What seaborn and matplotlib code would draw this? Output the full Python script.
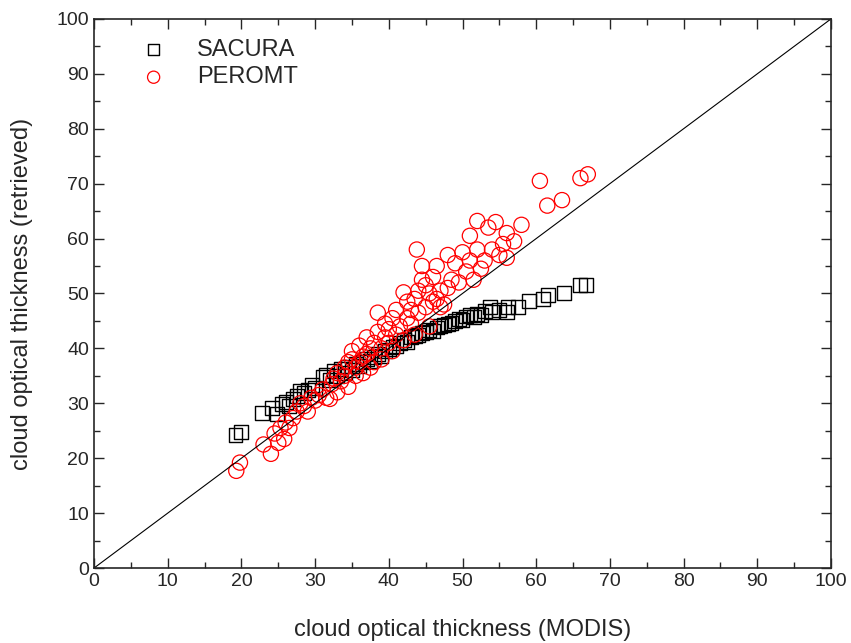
import pandas as pd
import matplotlib
matplotlib.use('Agg')
import matplotlib.pyplot as plt
import seaborn as sns
from matplotlib.ticker import MultipleLocator

# SACURA retrievals vs MODIS
sacura_x = [19.2, 19.9, 22.8, 24.2, 24.8, 25.5, 26.0, 26.5, 27.0, 27.6, 28.0, 28.5, 29.0,
            29.6, 30.0, 31.0, 31.5, 32.0, 32.5, 33.0, 33.5, 34.0, 34.5, 35.0, 35.5, 36.0,
            36.5, 37.0, 37.5, 38.0, 38.5, 39.0, 39.5, 40.0, 40.5, 41.0, 41.5, 42.0, 42.5,
            43.0, 43.5, 44.0, 44.5, 45.0, 45.5, 46.0, 46.5, 47.0, 47.5, 48.0, 48.5, 49.0,
            49.5, 50.0, 50.5, 51.0, 51.5, 52.0, 52.5, 53.0, 53.7, 54.0, 55.0, 56.0, 56.2,
            57.5, 59.0, 60.9, 61.6, 63.8, 66.0, 66.8]
sacura_y = [24.3, 24.8, 28.3, 29.2, 28.0, 29.8, 30.3, 29.5, 30.8, 31.3, 32.3, 31.8, 32.5,
            33.3, 32.8, 34.8, 35.2, 34.3, 35.8, 35.0, 36.2, 35.5, 36.7, 36.0, 37.2, 36.8,
            37.5, 38.0, 37.7, 38.5, 39.0, 38.6, 39.5, 39.8, 40.3, 40.5, 41.0, 41.5, 41.2,
            42.0, 42.2, 42.5, 42.8, 43.0, 43.3, 43.2, 43.8, 44.0, 44.3, 44.5, 44.6, 45.0,
            45.3, 45.2, 45.8, 46.0, 45.7, 46.3, 46.0, 46.8, 47.5, 46.6, 47.0, 46.6, 47.5,
            47.5, 48.6, 49.0, 49.7, 50.1, 51.5, 51.5]

# PEROMT retrievals vs MODIS
peromt_x = [19.3, 19.8, 23.0, 24.0, 24.5, 25.0, 25.3, 25.8, 26.0, 26.5, 27.0, 27.5, 28.0,
            28.5, 29.0, 29.5, 30.0, 30.5, 31.0, 31.5, 32.0, 32.3, 32.5, 33.0, 33.0, 33.5,
            34.0, 34.0, 34.5, 34.5, 35.0, 35.0, 35.5, 35.5, 36.0, 36.0, 36.5, 36.5, 37.0,
            37.0, 37.5, 37.5, 38.0, 38.0, 38.5, 38.5, 39.0, 39.0, 39.5, 39.5, 40.0, 40.0,
            40.5, 40.5, 41.0, 41.0, 41.5, 42.0, 42.0, 42.5, 42.5, 43.0, 43.0, 43.5, 43.5,
            43.8, 44.0, 44.0, 44.5, 44.5, 45.0, 45.0, 45.5, 45.5, 46.0, 46.0, 46.5, 46.5,
            47.0, 47.0, 47.5, 48.0, 48.0, 48.5, 49.0, 49.5, 50.0, 50.5, 51.0, 51.0, 51.5,
            52.0, 52.0, 52.5, 53.0, 53.5, 54.0, 54.5, 55.0, 55.5, 56.0, 56.0, 57.0, 58.0,
            60.5, 61.5, 63.5, 66.0, 67.0]
peromt_y = [17.7, 19.2, 22.5, 20.8, 24.5, 22.8, 25.5, 23.5, 26.5, 25.5, 27.3, 28.5, 30.0,
            29.5, 28.5, 31.0, 30.5, 31.5, 32.5, 31.0, 30.8, 33.5, 34.5, 32.0, 35.5, 34.0,
            35.0, 36.5, 33.0, 37.5, 38.0, 39.5, 35.0, 36.5, 40.5, 37.5, 38.5, 35.5, 39.0,
            42.0, 40.0, 36.5, 37.5, 41.0, 43.0, 46.5, 40.0, 38.0, 42.0, 44.5, 41.0, 43.5,
            39.5, 45.5, 42.5, 47.0, 44.0, 50.2, 41.5, 48.5, 45.5, 44.5, 47.0, 49.0, 42.5,
            58.0, 50.5, 46.5, 52.5, 55.0, 47.5, 51.5, 50.0, 44.0, 48.5, 53.0, 55.0, 49.0,
            50.5, 47.5, 48.0, 51.0, 57.0, 52.5, 55.5, 52.0, 57.5, 54.0, 60.5, 56.0, 52.5,
            58.0, 63.2, 54.5, 56.0, 62.0, 58.0, 63.0, 57.0, 59.0, 61.0, 56.5, 59.5, 62.5,
            70.5, 66.0, 67.0, 71.0, 71.7]

df_s = pd.DataFrame({'modis': sacura_x, 'retrieved': sacura_y})
df_p = pd.DataFrame({'modis': peromt_x, 'retrieved': peromt_y})

sns.set_style('ticks')
plt.rcParams['font.family'] = ['Liberation Sans', 'DejaVu Sans']

fig = plt.figure(figsize=(8.51, 6.43), dpi=100)
ax = fig.add_axes([0.1105, 0.1166, 0.866, 0.854])

ax.plot([0, 100], [0, 100], color='black', lw=0.8)

sns.scatterplot(data=df_s, x='modis', y='retrieved', ax=ax, marker='s', s=100,
                facecolors='none', edgecolor='black', linewidth=1.0, label='SACURA')
sns.scatterplot(data=df_p, x='modis', y='retrieved', ax=ax, marker='o', s=120,
                facecolors='none', edgecolor='red', linewidth=0.9, label='PEROMT')

ax.set_xlim(0, 100)
ax.set_ylim(0, 100)
ax.xaxis.set_major_locator(MultipleLocator(10))
ax.yaxis.set_major_locator(MultipleLocator(10))
ax.xaxis.set_minor_locator(MultipleLocator(5))
ax.yaxis.set_minor_locator(MultipleLocator(5))
ax.tick_params(which='both', direction='in', top=True, right=True, labelsize=14, width=1)
ax.tick_params(which='major', length=7)
ax.tick_params(which='minor', length=4)
for sp in ax.spines.values():
    sp.set_linewidth(1.2)

ax.set_xlabel('cloud optical thickness (MODIS)', fontsize=17, labelpad=21)
ax.set_ylabel('cloud optical thickness (retrieved)', fontsize=17, labelpad=17)

leg = ax.legend(loc='upper left', frameon=False, fontsize=17, markerscale=0.8,
                handlelength=1.0, handletextpad=1.35, labelspacing=0.25,
                bbox_to_anchor=(0.036, 1.003))

fig.savefig('out.png', dpi=100)
